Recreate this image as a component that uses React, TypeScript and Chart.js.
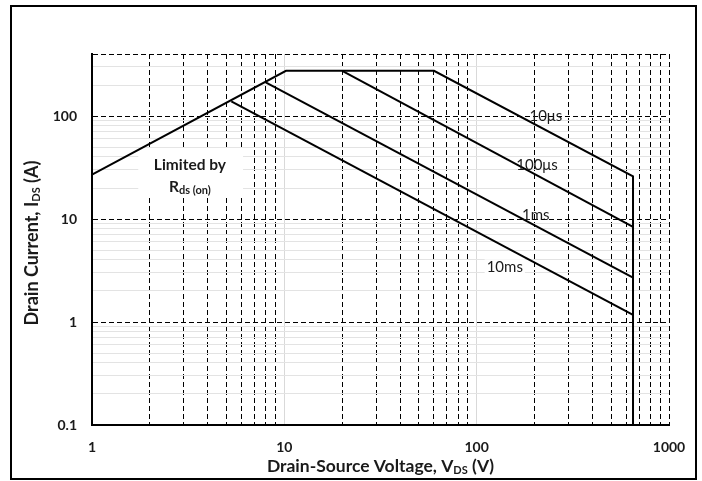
import React, { useEffect, useRef } from 'react';
import { Chart, registerables } from 'chart.js';

Chart.register(...registerables);

const FONT = 'Lato, "Open Sans", sans-serif';

// ---- axis ticks ----
const xTickValues = [1, 2, 3, 4, 5, 6, 7, 8, 9, 10, 20, 30, 40, 50, 60, 70, 80, 90, 100, 200, 300, 400, 500, 600, 700, 800, 900, 1000];
const xTickLabels = ['1', '10', '100', '1000'];
const xMajorGray = [10, 100];
const yTickValues = [0.1, 0.2, 0.3, 0.4, 0.5, 0.6, 0.7, 0.8, 0.9, 1, 2, 3, 4, 5, 6, 7, 8, 9, 10, 20, 30, 40, 50, 60, 70, 80, 90, 100, 200, 300, 400];
const yTickLabels = ['0.1', '1', '10', '100'];
const yMajorDashed = [1, 10, 100, 400];

// ---- series (V in volts, I in amps) ----
const envelopeV = [1, 10.2, 60, 650, 650];
const envelopeI = [27, 275, 275, 26, 0.1];
const v100us = [20, 650];
const i100us = [275, 8.4];
const v1ms = [8, 650];
const i1ms = [212, 2.7];
const v10ms = [5.3, 650];
const i10ms = [139, 1.17];

// ---- annotations (data coordinates) ----
const pulseLabels = ['10μs', '100μs', '1ms', '10ms'];
const pulseLabelV = [229, 206, 203, 140];
const pulseLabelI = [100, 33.6, 10.9, 3.4];
const limitedBoxV = [1.74, 6.1];
const limitedBoxI = [49, 16.8];
const limitedTextV = 3.23;
const limitedTextI = [33.6, 20.6];

type Part = { text: string; font: string; dy: number };

function drawRich(ctx: CanvasRenderingContext2D, parts: Part[], cx: number, cy: number) {
  let total = 0;
  const widths = parts.map((p) => {
    ctx.font = p.font;
    const w = ctx.measureText(p.text).width;
    total += w;
    return w;
  });
  let x = cx - total / 2;
  ctx.textBaseline = 'middle';
  ctx.textAlign = 'left';
  parts.forEach((p, i) => {
    ctx.font = p.font;
    ctx.fillText(p.text, x, cy + p.dy);
    x += widths[i];
  });
}

const zip = (xs: number[], ys: number[]) => xs.map((x, i) => ({ x, y: ys[i] }));

const decorPlugin = {
  id: 'decor',
  beforeDatasetsDraw(chart: any) {
    const { ctx, scales } = chart;
    const xs = scales.x, ys = scales.y;
    const x1 = xs.getPixelForValue(limitedBoxV[0]);
    const x2 = xs.getPixelForValue(limitedBoxV[1]);
    const y1 = ys.getPixelForValue(limitedBoxI[0]);
    const y2 = ys.getPixelForValue(limitedBoxI[1]);
    ctx.save();
    ctx.fillStyle = '#ffffff';
    ctx.fillRect(x1, y1, x2 - x1, y2 - y1);
    ctx.restore();
  },
  afterDraw(chart: any) {
    const { ctx, scales } = chart;
    const xs = scales.x, ys = scales.y;
    ctx.save();
    ctx.fillStyle = '#1a1a1a';
    // pulse labels
    pulseLabels.forEach((t, i) => {
      const px = xs.getPixelForValue(pulseLabelV[i]);
      const py = ys.getPixelForValue(pulseLabelI[i]);
      ctx.font = `15px ${FONT}`;
      const w = ctx.measureText(t).width;
      if (t === '10ms') {
        ctx.fillStyle = '#ffffff';
        ctx.fillRect(px - w / 2 - 2, py - 8, w + 4, 16);
        ctx.fillStyle = '#1a1a1a';
      }
      ctx.textAlign = 'center';
      ctx.textBaseline = 'middle';
      ctx.fillText(t, px, py);
    });
    // Limited by Rds(on)
    const lx = xs.getPixelForValue(limitedTextV);
    ctx.textAlign = 'center';
    ctx.textBaseline = 'middle';
    ctx.font = `bold 15.5px ${FONT}`;
    ctx.fillText('Limited by', lx, ys.getPixelForValue(limitedTextI[0]));
    drawRich(ctx, [
      { text: 'R', font: `bold 15.5px ${FONT}`, dy: 0 },
      { text: 'ds (on)', font: `bold 11px ${FONT}`, dy: 4 },
    ], lx, ys.getPixelForValue(limitedTextI[1]));

    // axis titles
    const ca = chart.chartArea;
    drawRich(ctx, [
      { text: 'Drain-Source Voltage, V', font: `bold 17.5px ${FONT}`, dy: 0 },
      { text: 'DS', font: `bold 11px ${FONT}`, dy: 4 },
      { text: ' (V)', font: `bold 17.5px ${FONT}`, dy: 0 },
    ], (ca.left + ca.right) / 2, 466);

    ctx.save();
    ctx.translate(32, 243);
    ctx.rotate(-Math.PI / 2);
    drawRich(ctx, [
      { text: 'Drain Current, I', font: `bold 18px ${FONT}`, dy: 0 },
      { text: 'DS', font: `bold 11px ${FONT}`, dy: 4 },
      { text: ' (A)', font: `bold 18px ${FONT}`, dy: 0 },
    ], 0, 0);
    ctx.restore();

    // outer frame
    ctx.strokeStyle = '#000000';
    ctx.lineWidth = 2;
    ctx.strokeRect(11, 6, 685, 473);
    ctx.restore();
  },
};

export default function App() {
  const ref = useRef<HTMLCanvasElement | null>(null);

  useEffect(() => {
    if (!ref.current) return;
    const lineStyle = {
      borderColor: '#000000',
      borderWidth: 2,
      pointRadius: 0,
      fill: false,
      tension: 0,
    };
    const chart = new Chart(ref.current, {
      type: 'line',
      data: {
        datasets: [
          { label: 'envelope', data: zip(envelopeV, envelopeI), ...lineStyle },
          { label: '100us', data: zip(v100us, i100us), ...lineStyle },
          { label: '1ms', data: zip(v1ms, i1ms), ...lineStyle },
          { label: '10ms', data: zip(v10ms, i10ms), ...lineStyle },
        ],
      },
      options: {
        responsive: false,
        animation: false,
        layout: { padding: { top: 54, right: 33, left: 0, bottom: 0 } },
        plugins: { legend: { display: false }, tooltip: { enabled: false } },
        scales: {
          x: {
            type: 'logarithmic',
            position: 'bottom',
            min: 1,
            max: 1000,
            afterBuildTicks: (s: any) => { s.ticks = xTickValues.map((v) => ({ value: v })); },
            afterFit: (s: any) => { s.height = 56; },
            ticks: {
              autoSkip: false,
              maxRotation: 0,
              minRotation: 0,
              padding: 14,
              color: '#1a1a1a',
              font: { family: FONT, size: 14, weight: 'bold' },
              callback: (v: any) => (xTickLabels.includes(String(v)) ? String(v) : ''),
            },
            grid: {
              drawTicks: false,
              lineWidth: 1,
              color: (c: any) => {
                const v = c.tick?.value;
                if (v === 1) return 'rgba(0,0,0,0)';
                if (xMajorGray.includes(v)) return '#d9d9d9';
                return '#000000';
              },
            },
            border: {
              display: true,
              color: '#000000',
              width: 2,
              dash: (c: any) => {
                const v = c.tick?.value;
                if (v === undefined || v === 1 || xMajorGray.includes(v)) return [];
                return [5, 3];
              },
            },
          },
          y: {
            type: 'logarithmic',
            position: 'left',
            min: 0.1,
            max: 400,
            afterBuildTicks: (s: any) => { s.ticks = yTickValues.map((v) => ({ value: v })); },
            afterFit: (s: any) => { s.width = 92; },
            ticks: {
              autoSkip: false,
              padding: 15,
              color: '#1a1a1a',
              font: { family: FONT, size: 14, weight: 'bold' },
              callback: (v: any) => (yTickLabels.includes(String(v)) ? String(v) : ''),
            },
            grid: {
              drawTicks: false,
              lineWidth: 1,
              color: (c: any) => {
                const v = c.tick?.value;
                if (v === 0.1) return 'rgba(0,0,0,0)';
                if (yMajorDashed.includes(v)) return '#000000';
                return '#e3e3e3';
              },
            },
            border: {
              display: true,
              color: '#000000',
              width: 2,
              dash: (c: any) => {
                const v = c.tick?.value;
                if (v !== undefined && yMajorDashed.includes(v)) return [5, 3];
                return [];
              },
            },
          },
        },
      } as any,
      plugins: [decorPlugin],
    });
    return () => chart.destroy();
  }, []);

  return (
    <div style={{ position: 'fixed', left: 0, top: 0, width: 702, height: 481, background: '#ffffff' }}>
      <canvas ref={ref} width={702} height={481} style={{ display: 'block' }} />
    </div>
  );
}
